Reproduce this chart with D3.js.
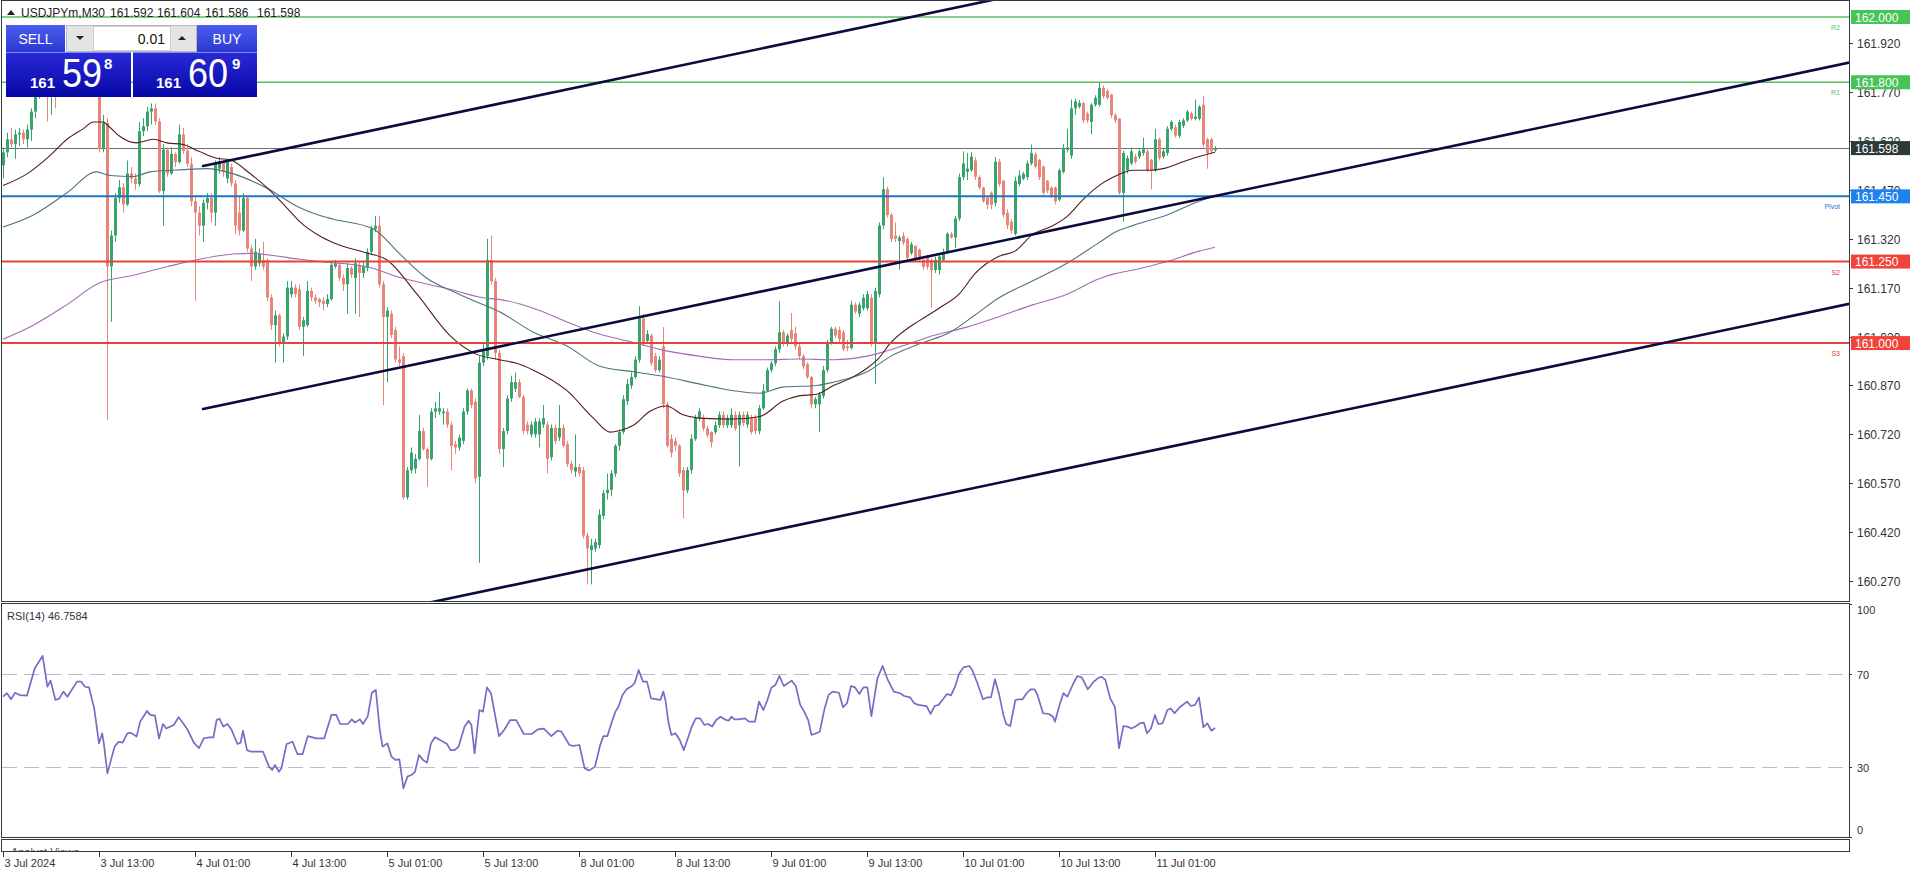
<!DOCTYPE html>
<html>
<head>
<meta charset="utf-8">
<script src="https://cdn.jsdelivr.net/npm/d3@7"></script>
<style>
html,body{margin:0;padding:0;background:#ffffff;overflow:hidden;}
svg{display:block;}
text{font-family:"Liberation Sans",Arial,sans-serif;}
</style>
</head>
<body>
<svg id="c" width="1916" height="874"></svg>
<script>
// ---------------- DATA ----------------
const symbolTitle = "USDJPYm,M30";
const headerOHLC = ["161.592","161.604","161.586","161.598"];
const opens=[161.545,161.585,161.625,161.610,161.640,161.645,161.625,161.655,161.710,161.765,
161.795,161.825,161.775,161.790,161.765,161.770,161.785,161.775,161.790,161.805,
161.805,161.795,161.792,161.775,161.770,161.595,161.675,161.235,161.330,161.445,
161.478,161.425,161.520,161.505,161.488,161.650,161.665,161.710,161.720,161.680,
161.466,161.593,161.520,161.580,161.555,161.640,161.590,161.550,161.435,161.400,
161.360,161.430,161.445,161.400,161.535,161.555,161.505,161.540,161.490,161.400,
161.345,161.445,161.290,161.235,161.245,161.255,161.255,161.140,161.055,161.085,
161.000,161.020,161.150,161.170,161.165,161.050,161.055,161.160,161.140,161.135,
161.130,161.120,161.135,161.235,161.240,161.200,161.180,161.230,161.200,161.240,
161.215,161.230,161.280,161.350,161.360,161.180,161.080,161.090,161.040,160.950,
160.960,160.527,160.610,160.615,160.645,160.730,160.675,160.645,160.790,160.790,
160.785,160.790,160.750,160.690,160.680,160.700,160.790,160.855,160.820,160.590,
160.940,160.960,161.255,161.190,160.970,160.675,160.730,160.830,160.860,160.880,
160.835,160.750,160.720,160.720,160.720,160.750,160.750,160.650,160.740,160.710,
160.740,160.690,160.630,160.606,160.620,160.610,160.410,160.365,160.370,160.380,
160.470,160.540,160.550,160.600,160.685,160.727,160.822,160.870,160.896,160.949,
161.076,161.007,161.023,160.960,160.917,160.990,160.812,160.706,160.700,160.685,
160.610,160.548,160.611,160.706,160.770,160.770,160.738,160.727,160.727,160.748,
160.780,160.748,160.748,160.780,160.748,160.780,160.750,160.770,160.770,160.730,
160.800,160.854,160.917,160.938,160.981,161.033,161.002,161.040,161.030,160.990,
160.960,160.935,160.896,160.812,160.812,160.838,160.917,161.002,161.044,161.040,
161.033,160.990,160.985,161.118,161.090,161.107,161.107,161.139,161.002,161.150,
161.361,161.472,161.393,161.330,161.313,161.329,161.319,161.276,161.298,161.287,
161.255,161.266,161.255,161.224,161.224,161.255,161.280,161.335,161.324,161.382,
161.509,161.525,161.530,161.560,161.509,161.477,161.446,161.461,161.430,161.556,
161.498,161.400,161.372,161.335,161.488,161.504,161.509,161.551,161.578,161.562,
161.541,161.498,161.477,161.477,161.440,161.525,161.593,161.575,161.720,161.725,
161.736,161.704,161.678,161.731,161.731,161.783,161.773,161.762,161.699,161.688,
161.461,161.530,161.551,161.572,161.572,161.583,161.588,161.562,161.530,161.625,
161.572,161.583,161.657,161.662,161.636,161.667,161.683,161.704,161.688,161.688,
161.731,161.625,161.625,161.592];
const highs=[161.600,161.645,161.660,161.655,161.660,161.655,161.670,161.720,161.780,161.810,
161.840,161.835,161.805,161.795,161.785,161.800,161.795,161.805,161.820,161.825,
161.815,161.810,161.800,161.790,161.780,161.700,161.690,161.345,161.460,161.500,
161.490,161.560,161.540,161.520,161.678,161.690,161.725,161.735,161.735,161.690,
161.610,161.600,161.600,161.585,161.670,161.660,161.610,161.570,161.450,161.420,
161.440,161.460,161.460,161.560,161.570,161.560,161.560,161.550,161.500,161.450,
161.460,161.450,161.300,161.320,161.290,161.310,161.260,161.150,161.100,161.090,
161.030,161.190,161.190,161.180,161.180,161.080,161.190,161.170,161.150,161.140,
161.140,161.150,161.250,161.255,161.250,161.210,161.245,161.235,161.260,161.250,
161.250,161.290,161.360,161.390,161.390,161.190,161.110,161.100,161.050,160.990,
160.970,160.620,160.680,160.660,160.780,160.740,160.680,160.800,160.820,160.850,
160.800,160.800,160.760,160.700,160.720,160.800,160.860,160.860,160.830,160.960,
161.000,161.320,161.330,161.200,160.980,160.740,160.840,160.900,160.910,160.890,
160.840,160.760,160.760,160.770,160.770,160.810,160.760,160.750,160.750,160.810,
160.750,160.700,160.640,160.720,160.630,160.620,160.420,160.400,160.400,160.490,
160.550,160.600,160.610,160.690,160.735,160.840,160.890,160.910,160.960,161.113,
161.090,161.040,161.030,160.970,160.960,161.049,160.820,160.720,160.710,160.690,
160.620,160.620,160.720,160.780,160.800,160.780,160.745,160.730,160.760,160.790,
160.790,160.780,160.800,160.790,160.790,160.790,160.790,160.780,160.780,160.810,
160.875,160.925,160.945,160.990,161.129,161.040,161.030,161.092,161.050,161.000,
160.965,160.940,160.900,160.835,160.850,160.930,161.010,161.050,161.050,161.050,
161.040,161.010,161.130,161.125,161.125,161.150,161.160,161.150,161.170,161.370,
161.509,161.480,161.400,161.370,161.330,161.340,161.325,161.310,161.300,161.290,
161.260,161.270,161.260,161.265,161.270,161.290,161.340,161.340,161.390,161.520,
161.588,161.583,161.585,161.570,161.515,161.480,161.450,161.465,161.570,161.565,
161.500,161.410,161.380,161.510,161.530,161.525,161.560,161.609,161.585,161.565,
161.545,161.500,161.480,161.480,161.535,161.610,161.657,161.747,161.750,161.745,
161.740,161.710,161.735,161.760,161.799,161.790,161.780,161.765,161.705,161.690,
161.590,161.575,161.600,161.580,161.595,161.630,161.595,161.565,161.657,161.630,
161.595,161.665,161.683,161.670,161.685,161.690,161.715,161.710,161.747,161.730,
161.757,161.630,161.630,161.604];
const lows=[161.505,161.570,161.600,161.565,161.605,161.610,161.600,161.620,161.690,161.750,
161.780,161.680,161.700,161.720,161.758,161.760,161.765,161.768,161.780,161.785,
161.780,161.782,161.765,161.762,161.585,161.585,160.765,161.065,161.310,161.430,
161.400,161.420,161.490,161.470,161.480,161.635,161.650,161.670,161.670,161.460,
161.360,161.510,161.515,161.540,161.550,161.580,161.540,161.420,161.130,161.330,
161.310,161.410,161.370,161.360,161.520,161.510,161.490,161.480,161.335,161.330,
161.340,161.280,161.190,161.225,161.235,161.225,161.130,161.040,160.940,160.990,
160.940,161.010,161.140,161.140,161.040,160.960,161.050,161.130,161.120,161.110,
161.100,161.110,161.130,161.230,161.190,161.160,161.090,161.200,161.090,161.080,
161.200,161.220,161.270,161.340,161.170,160.810,160.880,161.015,160.940,160.930,
160.520,160.520,160.600,160.600,160.640,160.670,160.560,160.640,160.770,160.780,
160.750,160.740,160.610,160.660,160.670,160.690,160.780,160.800,160.570,160.326,
160.930,160.950,161.180,160.950,160.660,160.620,160.720,160.820,160.850,160.830,
160.720,160.720,160.710,160.710,160.680,160.740,160.600,160.640,160.690,160.700,
160.680,160.620,160.600,160.590,160.590,160.400,160.260,160.260,160.360,160.370,
160.460,160.520,160.530,160.590,160.670,160.720,160.810,160.860,160.890,160.940,
160.990,161.000,160.930,160.910,160.910,160.800,160.680,160.650,160.670,160.590,
160.463,160.540,160.600,160.700,160.760,160.730,160.710,160.680,160.720,160.740,
160.740,160.740,160.740,160.730,160.622,160.745,160.740,160.720,160.720,160.720,
160.795,160.850,160.910,160.930,160.970,160.990,160.990,161.000,160.980,160.950,
160.920,160.890,160.800,160.800,160.727,160.830,160.910,160.995,161.015,161.000,
160.975,160.975,160.980,161.090,161.080,161.100,161.100,160.990,160.875,161.140,
161.350,161.385,161.310,161.310,161.224,161.300,161.255,161.270,161.250,161.250,
161.225,161.225,161.107,161.215,161.210,161.250,161.275,161.320,161.292,161.375,
161.500,161.500,161.525,161.500,161.470,161.430,161.410,161.410,161.420,161.480,
161.385,161.350,161.335,161.330,161.480,161.500,161.500,161.545,161.535,161.500,
161.455,161.460,161.445,161.425,161.435,161.520,161.585,161.565,161.700,161.720,
161.675,161.675,161.641,161.725,161.725,161.750,161.745,161.690,161.675,161.455,
161.372,161.520,161.545,161.550,161.565,161.575,161.525,161.472,161.525,161.560,
161.565,161.575,161.650,161.630,161.630,161.660,161.678,161.683,161.683,161.683,
161.600,161.535,161.580,161.586];
const closes=[161.585,161.625,161.610,161.640,161.645,161.625,161.655,161.710,161.765,161.795,
161.825,161.775,161.790,161.765,161.770,161.785,161.775,161.790,161.805,161.805,
161.795,161.792,161.775,161.770,161.595,161.675,161.235,161.330,161.445,161.478,
161.425,161.520,161.505,161.488,161.650,161.665,161.710,161.720,161.680,161.466,
161.593,161.520,161.580,161.555,161.640,161.590,161.550,161.435,161.400,161.360,
161.430,161.445,161.400,161.550,161.555,161.525,161.555,161.490,161.360,161.345,
161.445,161.290,161.235,161.280,161.275,161.235,161.140,161.055,161.085,161.000,
161.020,161.170,161.170,161.150,161.050,161.070,161.160,161.140,161.130,161.125,
161.120,161.135,161.240,161.245,161.200,161.180,161.230,161.210,161.245,161.215,
161.235,161.280,161.350,161.360,161.180,161.080,161.100,161.025,160.950,160.940,
160.527,160.610,160.664,160.645,160.730,160.675,160.645,160.790,160.800,160.800,
160.790,160.750,160.685,160.680,160.710,160.790,160.855,160.810,160.585,160.940,
160.980,161.255,161.190,160.970,160.675,160.730,160.830,160.880,160.880,160.835,
160.730,160.730,160.750,160.760,160.760,160.770,160.645,160.740,160.700,160.740,
160.685,160.630,160.610,160.620,160.600,160.410,160.370,160.380,160.390,160.474,
160.540,160.550,160.600,160.685,160.727,160.828,160.875,160.896,160.949,161.076,
161.002,161.028,160.938,160.917,160.949,160.812,160.685,160.664,160.685,160.600,
160.548,160.611,160.706,160.770,160.791,160.738,160.717,160.696,160.748,160.780,
160.748,160.770,160.780,160.738,160.780,160.755,160.780,160.727,160.730,160.800,
160.854,160.917,160.938,160.981,161.033,161.002,161.023,161.012,160.990,160.960,
160.928,160.896,160.812,160.828,160.843,160.917,161.002,161.044,161.023,161.012,
160.981,160.985,161.118,161.097,161.118,161.139,161.150,161.002,161.160,161.361,
161.472,161.393,161.319,161.320,161.324,161.308,161.261,161.303,161.261,161.255,
161.234,161.234,161.224,161.255,161.266,161.276,161.335,161.324,161.382,161.509,
161.551,161.535,161.572,161.510,161.477,161.435,161.424,161.424,161.556,161.488,
161.393,161.361,161.345,161.498,161.514,161.519,161.551,161.583,161.541,161.509,
161.461,161.467,161.451,161.435,161.530,161.599,161.600,161.720,161.741,161.736,
161.683,161.683,161.731,161.752,161.783,161.757,161.752,161.699,161.683,161.461,
161.583,161.567,161.588,161.556,161.588,161.599,161.530,161.530,161.625,161.567,
161.588,161.657,161.678,161.636,161.678,161.683,161.710,161.688,161.694,161.725,
161.609,161.583,161.588,161.598];

// Moving averages: bar position / price
const ma1Bars=[0,6,12,16,20,22.6,25,26.7,29,33.4,37.6,41,45,49,53.4,56.75,61.75,66,71,74.25,79,82.6,91,96,103.5,111.75,117.6,124,128.4,132.6,141,147.6,151.75,154.25,157.6,161.75,165.9,170,174,182.6,189.25,195,199,203.4,207.6,211.75,216,218.6,222,226,229,234,239,243,249,253,257.6,261.75,266,270,274,277.6,282.6,286.75,290,295,299,303];
const ma1Vals=[161.483,161.519,161.578,161.625,161.657,161.678,161.678,161.662,161.636,161.614,161.625,161.614,161.609,161.588,161.567,161.562,161.520,161.477,161.414,161.372,161.330,161.308,161.276,161.255,161.150,161.023,160.970,160.949,160.938,160.917,160.854,160.770,160.727,160.732,160.748,160.791,160.807,160.780,160.770,160.767,160.775,160.822,160.838,160.843,160.870,160.891,160.923,160.949,161.002,161.044,161.068,161.107,161.150,161.213,161.266,161.282,161.335,161.356,161.388,161.440,161.483,161.509,161.530,161.530,161.535,161.556,161.572,161.585];
const ma2Bars=[0,7.6,16,23.4,26.75,32.6,36.75,45,51,57.6,66,74.25,79,82.6,92.6,99,105.6,114,120,124,132.6,141,149,157.6,165.9,174,182.6,189,195,203.4,207.6,216,222,229,236.75,243,249,257.6,266,274,278,282.6,291,299,303];
const ma2Vals=[161.356,161.393,161.461,161.525,161.514,161.511,161.525,161.532,161.535,161.519,161.475,161.415,161.392,161.380,161.350,161.276,161.202,161.150,161.118,161.097,161.033,160.991,160.930,160.912,160.896,160.875,160.854,160.846,160.865,160.870,160.880,160.912,160.960,160.997,161.033,161.086,161.139,161.192,161.245,161.308,161.340,161.361,161.393,161.435,161.451];
const ma3Bars=[0,7.6,16,24,32.6,41,49,57.6,61.75,66,74.25,79,91,99,111.75,120,124,132.6,141,147.6,157.6,165.9,174,182.6,191,199,207.6,216,224,232.6,241,249,257.6,266,274,278,282.6,291,299,303];
const ma3Vals=[161.012,161.055,161.118,161.184,161.208,161.234,161.257,161.273,161.275,161.271,161.257,161.250,161.234,161.202,161.165,161.139,161.134,161.107,161.065,161.033,161.002,160.976,160.960,160.949,160.949,160.951,160.949,160.960,160.988,161.023,161.049,161.081,161.118,161.150,161.197,161.213,161.224,161.250,161.282,161.294];

// RSI(14): bar position / value
const rsiBars=[0,1,2,3,4.2,6,7.95,9.9,11.1,11.9,13.1,14.1,15.1,16.1,18.5,19.5,20.5,21.5,22.8,24,24.8,25.2,26.1,27.9,28.9,29.9,31.1,31.9,33.4,34.3,36,36.8,38,39,40,40.8,42.7,43.9,44.9,46.2,47.7,49,50.2,51.6,52.6,53.4,54.1,55.1,56.1,57.1,58.6,59.4,60,61,62,63.5,65,66.5,67.3,68,69,69.6,70.9,72.4,73.6,74.9,76.2,78.3,80.3,82.1,83.3,84.3,86.2,87.2,88,89.2,90,91.2,92.2,93.2,94.2,94.9,96.1,97.1,98.1,99.1,100.1,101.1,102.1,103,104,105,106,107,108,109,111,111.9,112.9,113.9,115.4,116.4,117.1,117.9,119.1,120,121,122,124,125.3,126.8,128.3,130.2,132.2,133.7,135.2,137.1,138.6,139.6,141.6,142.6,144.1,145.4,146.5,148,
149.3,150.1,151.1,152.1,153.1,153.8,154.9,155.9,157.2,157.9,158.9,160,161,162,163.5,164.35,165.1,165.6,166.4,167.1,168.1,169.2,170.2,171.2,172.2,173.2,174.3,175.3,176.3,177.3,178.3,179.4,180.4,181.4,182.1,182.9,183.9,185.5,186.5,188,189,190.1,191.1,192.1,193.1,194.1,195.2,196.2,197.2,198.2,199.3,200.3,201.3,202.1,203.3,204.2,205.4,206.4,207.4,209,210,211,212,213,214.1,215.1,216.1,217.1,218.6,219.9,221.2,222.7,224.3,225.3,226.8,227.8,228.8,230.9,231.9,232.9,233.9,235,236,237,238,239,240.1,241.6,242.3,243.6,245,246,247,248,249,250.1,250.8,251.8,253.1,253.8,254.9,255.9,256.9,257.9,258.6,260,261.5,262.5,263,264,265.1,266.1,267.6,268.6,269.7,271.2,272.7,273.7,274.6,275.6,276.8,278,279,280.1,281.1,282.1,283.1,284.2,285.2,286,287,288,288.8,289.9,291.1,291.9,292.9,294.1,296,297,298,299,300.1,301.1,302.1,303];
const rsiVals=[60.2,61.7,59.1,61.9,60.9,60.7,72.4,77.7,64.5,67.1,58.8,59.5,62.4,60.2,66.7,66.7,64.5,64.2,55.2,40.2,44.5,40.2,27.3,38.8,40.9,40.5,44.5,44.8,43.1,49.5,54.1,52.4,52.1,42.3,48.5,46.6,48.1,51.4,49.1,45.9,40.5,38.1,42.3,42.8,42.8,50.2,50.8,47.4,48.5,46.2,39.9,40.5,45.6,37.3,36.6,36.6,36.6,30.2,28.8,30.9,28.0,29.5,39.9,40.9,35.6,35.6,43.3,42.3,42.3,52.4,52.4,48.5,48.5,50.5,49.1,50.5,48.5,51.9,61.9,63.1,45.9,38.8,40.2,34.5,33.1,33.3,20.9,25.9,26.6,28.0,35.2,33.1,31.9,40.2,42.8,41.9,39.9,37.3,37.3,38.8,47.4,49.9,48.1,35.9,54.5,53.8,64.2,61.7,43.3,45.9,50.2,50.2,44.2,44.2,46.2,46.5,43.3,45.6,45.2,39.5,39.1,39.5,29.5,28.5,30.2,
39.5,43.3,43.3,48.8,53.8,55.7,61.0,63.4,64.8,66.0,71.7,66.7,66.7,59.5,59.1,58.8,62.4,58.8,48.8,43.8,44.5,41.6,37.3,42.3,47.4,50.9,50.9,48.1,48.5,47.4,50.2,51.6,50.5,49.9,51.6,50.5,50.5,50.9,49.5,49.5,58.1,54.5,58.8,64.2,65.2,69.1,64.8,66.0,67.1,64.8,56.7,53.8,50.2,43.8,44.5,45.2,55.2,61.0,62.4,61.9,55.7,57.4,64.8,64.2,61.4,64.2,64.2,51.9,68.1,73.4,67.4,62.4,61.7,60.5,59.9,57.4,56.7,56.2,52.8,56.2,56.7,59.1,61.4,60.8,64.5,70.0,72.8,73.4,71.7,66.0,59.1,59.9,59.9,67.7,61.4,52.4,48.5,47.6,58.8,59.1,59.1,61.7,63.4,63.4,61.0,53.1,52.8,51.6,49.5,55.9,61.7,60.2,66.0,69.1,68.5,63.4,66.7,68.1,68.8,67.4,59.5,55.7,38.1,47.6,47.4,46.6,47.4,48.8,49.1,44.5,46.6,52.4,48.5,48.8,54.5,55.2,53.1,55.6,58.1,56.2,56.7,59.9,47.1,48.8,45.6,46.76];
const rsiTitle = "RSI(14) 46.7584";
const rsiLevels=[70,30];
const rsiTicks=[100,70,30,0];

// Pivot levels
const levelValues=[162.000,161.800,161.450,161.250,161.000];
const levelNames=["R2","R1","Pivot","S2","S3"];
const currentPrice=161.598;

// Channel trend lines: [startBar, startPrice, endBar, endPrice]
const channelStartBar=[50,50,100];
const channelStartPrice=[161.543,160.798,160.187];
const channelEndBar=[260,470,470];
const channelEndPrice=[162.085,161.882,161.142];

const priceTicks=[161.920,161.770,161.620,161.470,161.320,161.170,161.020,160.870,160.720,160.570,160.420,160.270];
const timeBars=[0,24,48,72,96,120,144,168,192,216,240,264,288];
const timeLabels=["3 Jul 2024","3 Jul 13:00","4 Jul 01:00","4 Jul 13:00","5 Jul 01:00","5 Jul 13:00","8 Jul 01:00","8 Jul 13:00","9 Jul 01:00","9 Jul 13:00","10 Jul 01:00","10 Jul 13:00","11 Jul 01:00"];

// Trade panel
const lotSize="0.01";
const bidParts=["161","59","8"];
const askParts=["161","60","9"];

// ---------------- DRAW ----------------
const svg=d3.select('#c');
const defs=svg.append('defs');
const PL=2, PR=1849, PT=0, PB=601, RT=604, RB=837;
const x=d3.scaleLinear().domain([0,461.5]).range([3,PR]);
const y=d3.scaleLinear().domain([160.209,162.043]).range([601,3]);
const yr=d3.scaleLinear().domain([0,100]).range([RB,RT]);
const BULL="#36a46b", BEAR="#e9847a";
const AX="#2e3b3e";

defs.append('clipPath').attr('id','cp').append('rect').attr('x',PL).attr('y',PT).attr('width',PR-PL).attr('height',PB-PT);
defs.append('clipPath').attr('id','cr').append('rect').attr('x',PL).attr('y',RT).attr('width',PR-PL).attr('height',RB-RT);
defs.append('clipPath').attr('id','cs').append('rect').attr('x',PL).attr('y',840).attr('width',PR-PL).attr('height',11);

svg.append('rect').attr('width',1916).attr('height',874).attr('fill','#fff');

// ---- price panel
const main=svg.append('g').attr('clip-path','url(#cp)');
main.append('line').attr('x1',PL).attr('x2',PR).attr('y1',Math.round(y(currentPrice))+0.5).attr('y2',Math.round(y(currentPrice))+0.5)
  .attr('stroke','#6f6f6f').attr('stroke-width',1);

const bars=opens.map((o,i)=>({i,o,h:highs[i],l:lows[i],c:closes[i]}));
main.append('g').selectAll('line').data(bars).join('line')
  .attr('x1',d=>Math.round(x(d.i))+0.5).attr('x2',d=>Math.round(x(d.i))+0.5)
  .attr('y1',d=>y(d.h)).attr('y2',d=>y(d.l))
  .attr('stroke',d=>d.c>=d.o?BULL:BEAR).attr('stroke-width',1);
main.append('g').selectAll('rect').data(bars).join('rect')
  .attr('x',d=>Math.round(x(d.i))-1).attr('width',3)
  .attr('y',d=>y(Math.max(d.o,d.c)))
  .attr('height',d=>Math.max(1,Math.abs(y(d.o)-y(d.c))))
  .attr('fill',d=>d.c>=d.o?BULL:BEAR);

const lineGen=d3.line().x(d=>x(d[0])).y(d=>y(d[1])).curve(d3.curveMonotoneX);
[[ma3Bars,ma3Vals,"#a56bb0"],[ma2Bars,ma2Vals,"#4f7480"],[ma1Bars,ma1Vals,"#561c1c"]].forEach(([b,v,col])=>{
  main.append('path').datum(b.map((bb,k)=>[bb,v[k]])).attr('d',lineGen)
    .attr('fill','none').attr('stroke',col).attr('stroke-width',1.1);
});

const levelColor=["#5cbd63","#5cbd63","#1f74c4","#e0443b","#e0443b"];
const boxColor=["#47c457","#47c457","#1b82ee","#f0433a","#f0433a"];
const levelW=[1.5,1.5,2,2,2];
levelValues.forEach((v,k)=>{
  main.append('line').attr('x1',PL).attr('x2',PR).attr('y1',y(v)).attr('y2',y(v))
    .attr('stroke',levelColor[k]).attr('stroke-width',levelW[k]);
  svg.append('text').attr('x',1840).attr('y',y(v)+13).attr('text-anchor','end')
    .attr('font-size',7).attr('fill',levelColor[k]).text(levelNames[k]);
});

channelStartBar.forEach((sb,k)=>{
  main.append('line').attr('x1',x(sb)).attr('y1',y(channelStartPrice[k]))
    .attr('x2',x(channelEndBar[k])).attr('y2',y(channelEndPrice[k]))
    .attr('stroke','#0b0b3d').attr('stroke-width',2.6).attr('stroke-linecap','round');
});

// ---- RSI panel
const rg=svg.append('g').attr('clip-path','url(#cr)');
rsiLevels.forEach(v=>{
  rg.append('line').attr('x1',PL).attr('x2',PR).attr('y1',Math.round(yr(v))+0.5).attr('y2',Math.round(yr(v))+0.5)
    .attr('stroke','#c9b3d2').attr('stroke-width',1).attr('stroke-dasharray','15,7');
});
rg.append('path').datum(rsiBars.map((b,k)=>[b,rsiVals[k]]))
  .attr('d',d3.line().x(d=>x(d[0])).y(d=>yr(d[1])))
  .attr('fill','none').attr('stroke','#7a69c7').attr('stroke-width',1.7).attr('stroke-linejoin','round');
svg.append('text').attr('x',7).attr('y',620).attr('font-size',11).attr('fill','#333').text(rsiTitle);

// ---- small panel
const sp=svg.append('g').attr('clip-path','url(#cs)');
sp.append('text').attr('x',11).attr('y',856).attr('font-size',11).attr('fill','#555').text('Analyst Views');

// ---- frames
svg.append('rect').attr('x',1.5).attr('y',0.5).attr('width',PR-1.5+0.5).attr('height',PB).attr('fill','none').attr('stroke',AX);
svg.append('rect').attr('x',1.5).attr('y',603.5).attr('width',PR-1.5+0.5).attr('height',234).attr('fill','none').attr('stroke',AX);
svg.append('rect').attr('x',1.5).attr('y',839.5).attr('width',PR-1.5+0.5).attr('height',12).attr('fill','none').attr('stroke',AX);

// ---- price axis
const pa=svg.append('g');
priceTicks.forEach(t=>{
  const yy=Math.round(y(t))+0.5;
  pa.append('line').attr('x1',PR).attr('x2',PR+4).attr('y1',yy).attr('y2',yy).attr('stroke',AX);
  pa.append('text').attr('x',1857).attr('y',yy+4.5).attr('font-size',12).attr('fill','#333').text(t.toFixed(3));
});
levelValues.forEach((v,k)=>{
  pa.append('rect').attr('x',1851).attr('y',y(v)-7).attr('width',59).attr('height',14).attr('fill',boxColor[k]);
  pa.append('text').attr('x',1855).attr('y',y(v)+4.5).attr('font-size',12).attr('fill','#fff').text(v.toFixed(3));
});
pa.append('rect').attr('x',1851).attr('y',y(currentPrice)-7).attr('width',59).attr('height',14).attr('fill','#2b3a3a');
pa.append('text').attr('x',1855).attr('y',y(currentPrice)+4.5).attr('font-size',12).attr('fill','#fff').text(currentPrice.toFixed(3));

// ---- RSI axis
rsiTicks.forEach(t=>{
  const yy=Math.round(yr(t))+0.5;
  const ty= t===100? yy+9 : (t===0? yy-4 : yy+4);
  pa.append('line').attr('x1',PR).attr('x2',PR+3).attr('y1',yy).attr('y2',yy).attr('stroke',AX);
  pa.append('text').attr('x',1857).attr('y',ty).attr('font-size',11).attr('fill','#333').text(t);
});

// ---- time axis
timeBars.forEach((b,k)=>{
  const xx=Math.round(x(b))+0.5;
  pa.append('line').attr('x1',xx).attr('x2',xx).attr('y1',852).attr('y2',857).attr('stroke',AX);
  pa.append('text').attr('x',xx+1).attr('y',867).attr('font-size',11).attr('fill','#333').text(timeLabels[k]);
});

// ---- header
const hd=svg.append('g');
hd.append('path').attr('d','M7,15 L11,10 L15,15 Z').attr('fill','#222');
hd.append('text').attr('x',21).attr('y',17).attr('font-size',12).attr('fill','#222').text(symbolTitle);
[110,157,205,257].forEach((xx,k)=>hd.append('text').attr('x',xx).attr('y',17).attr('font-size',12).attr('fill','#222').text(headerOHLC[k]));

// ---- trade panel
const g1=defs.append('linearGradient').attr('id','gh').attr('x1',0).attr('y1',0).attr('x2',0).attr('y2',1);
g1.append('stop').attr('offset','0%').attr('stop-color','#4d5df0');
g1.append('stop').attr('offset','100%').attr('stop-color','#2a38cf');
const g2=defs.append('linearGradient').attr('id','gp').attr('x1',0).attr('y1',0).attr('x2',0).attr('y2',1);
g2.append('stop').attr('offset','0%').attr('stop-color','#2a2ad8');
g2.append('stop').attr('offset','100%').attr('stop-color','#0606a6');
const tp=svg.append('g');
tp.append('rect').attr('x',6).attr('y',25).attr('width',59).attr('height',27).attr('fill','url(#gh)');
tp.append('rect').attr('x',197).attr('y',25).attr('width',60).attr('height',27).attr('fill','url(#gh)');
tp.append('text').attr('x',35.5).attr('y',44).attr('text-anchor','middle').attr('font-size',14).attr('fill','#fff').text('SELL');
tp.append('text').attr('x',227).attr('y',44).attr('text-anchor','middle').attr('font-size',14).attr('fill','#fff').text('BUY');
tp.append('rect').attr('x',66.5).attr('y',25.5).attr('width',130).attr('height',26).attr('fill','#e4e4e4').attr('stroke','#b9b9b9');
tp.append('rect').attr('x',93.5).attr('y',26.5).attr('width',77).attr('height',24).attr('fill','#fff').attr('stroke','#cfcfcf');
tp.append('path').attr('d','M76,36 L84,36 L80,40 Z').attr('fill','#222');
tp.append('path').attr('d','M178,40 L186,40 L182,36 Z').attr('fill','#222');
tp.append('text').attr('x',165).attr('y',44).attr('text-anchor','end').attr('font-size',14).attr('fill','#111').text(lotSize);
tp.append('rect').attr('x',6).attr('y',52).attr('width',125).attr('height',45).attr('fill','url(#gp)');
tp.append('rect').attr('x',133).attr('y',52).attr('width',124).attr('height',45).attr('fill','url(#gp)');
tp.append('line').attr('x1',6).attr('x2',131).attr('y1',52.5).attr('y2',52.5).attr('stroke','#7f8cf5');
tp.append('line').attr('x1',133).attr('x2',257).attr('y1',52.5).attr('y2',52.5).attr('stroke','#7f8cf5');
[[bidParts,30,62,104],[askParts,156,188,232]].forEach(([p,x1,x2,x3])=>{
  tp.append('text').attr('x',x1).attr('y',88).attr('font-size',15).attr('font-weight','bold').attr('fill','#fff').text(p[0]);
  tp.append('text').attr('x',x2).attr('y',87).attr('font-size',41).attr('fill','#fff')
    .attr('textLength',40).attr('lengthAdjust','spacingAndGlyphs').text(p[1]);
  tp.append('text').attr('x',x3).attr('y',69).attr('font-size',15).attr('font-weight','bold').attr('fill','#fff').text(p[2]);
});
</script>
</body>
</html>
